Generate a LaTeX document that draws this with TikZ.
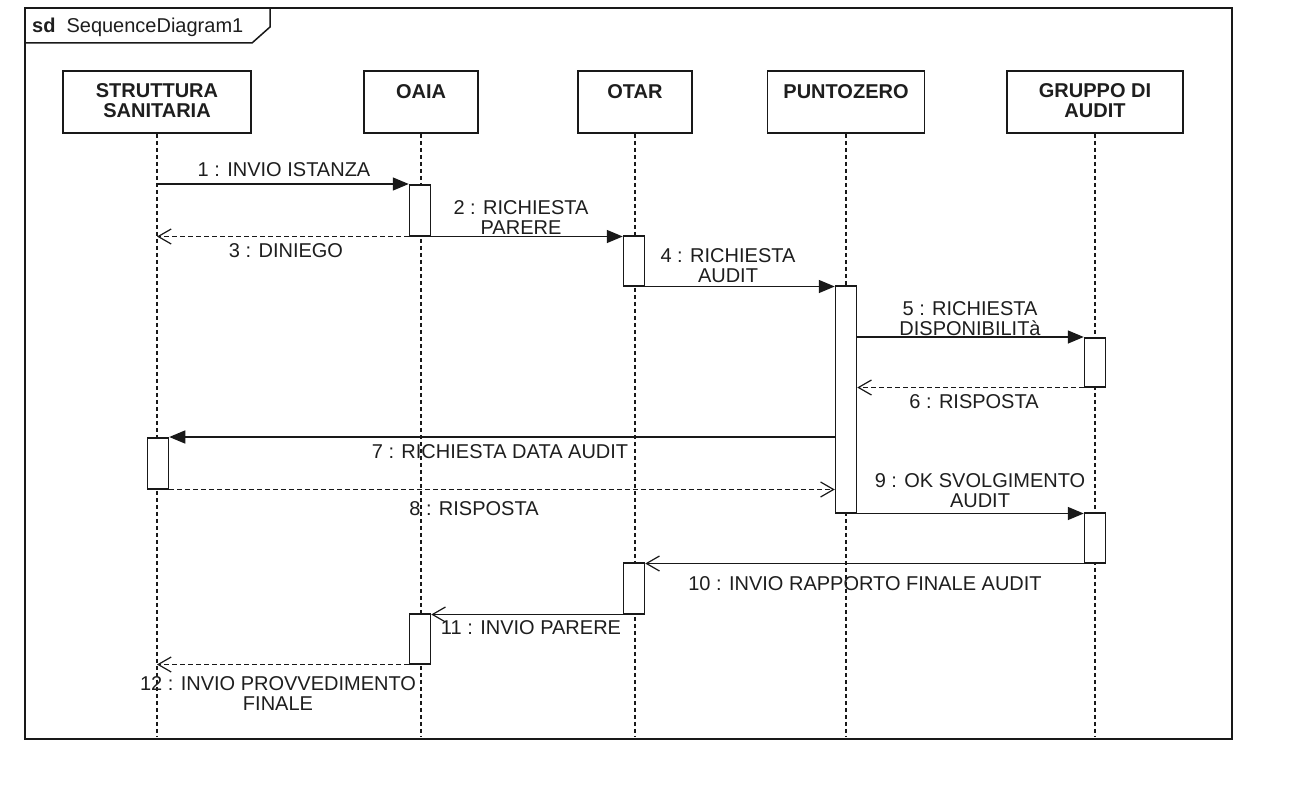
\documentclass[tikz,border=0pt]{standalone}
\usepackage{fontspec}
\setmainfont{Liberation Sans}
\usetikzlibrary{arrows.meta,calc}
\definecolor{txt}{RGB}{30,30,30}
\definecolor{ln}{RGB}{25,25,25}
\tikzset{
  lbox/.style={draw=ln, line width=1.5pt, fill=white, minimum height=62pt, inner sep=0pt},
  ltext/.style={font=\fontsize{20pt}{20pt}\selectfont\bfseries, align=center, inner sep=0pt, text=txt},
  act/.style={draw=ln, line width=1.5pt, fill=white, minimum width=21pt, inner sep=0pt, anchor=north},
  life/.style={draw=ln, dash pattern=on 4pt off 3pt, line width=1.2pt},
  msg/.style={draw=ln, line width=1.5pt, -{Triangle[length=16pt,width=13pt]}},
  reply/.style={draw=ln, line width=1.2pt, dash pattern=on 5pt off 3pt, -{Straight Barb[length=13pt,width=15pt,line width=1.2pt]}},
  async/.style={draw=ln, line width=1.5pt, -{Straight Barb[length=13pt,width=15pt,line width=1.2pt]}},
  mlabel/.style={font=\fontsize{20pt}{20pt}\selectfont, align=center, inner sep=0pt, text=txt},
}
\begin{document}
\begin{tikzpicture}[x=1pt,y=-1pt]
\useasboundingbox (0,0) rectangle (1306,792);
\fill[white] (0,0) rectangle (1306,792);

% frame
\draw[draw=ln, line width=1.5pt] (25,8) rectangle (1232,739);
\draw[draw=ln, line width=1.5pt] (25,43) -- (252,43) -- (270,27) -- (270,8);
\node[anchor=base west, inner sep=0pt, text=txt, font=\fontsize{20pt}{20pt}\selectfont] (title) at (32,33) {\textbf{sd}\hspace{11pt}SequenceDiagram1};
\coordinate (fbot) at (0,736);

% lifeline heads
\node[lbox, minimum width=188pt] (ss) at (157,102) {};
\node[lbox, minimum width=114pt] (oa) at (421,102) {};
\node[lbox, minimum width=114pt] (ot) at (635,102) {};
\node[lbox, minimum width=157pt] (pz) at (846,102) {};
\node[lbox, minimum width=176pt] (ga) at (1095,102) {};
\node[ltext, anchor=south] (sst) at (157,118) {STRUTTURA\\SANITARIA};
\node[ltext, anchor=base] (oat) at (421,98) {OAIA};
\node[ltext, anchor=base] (ott) at (635,98) {OTAR};
\node[ltext, anchor=base] (pzt) at (846,98) {PUNTOZERO};
\node[ltext, anchor=south] (gat) at (1095,118) {GRUPPO DI\\AUDIT};

% lifelines
\draw[life] (ss.south) -- (ss.south |- fbot);
\draw[life] (oa.south) -- (oa.south |- fbot);
\draw[life] (ot.south) -- (ot.south |- fbot);
\draw[life] (pz.south) -- (pz.south |- fbot);
\draw[life] (ga.south) -- (ga.south |- fbot);

% activations
\node[act, minimum height=51pt] (aO1) at (420,184) {};
\node[act, minimum height=50pt] (aT1) at (634,235) {};
\node[act, minimum height=227pt] (aP) at (846,285) {};
\node[act, minimum height=49pt] (aG1) at (1095,337) {};
\node[act, minimum height=51pt] (aS) at (158,437) {};
\node[act, minimum height=50pt] (aG2) at (1095,512) {};
\node[act, minimum height=51pt] (aT2) at (634,562) {};
\node[act, minimum height=50pt] (aO2) at (420,613) {};

% messages
\draw[msg] (ss.south |- aO1.north west) -- (aO1.north west);
\draw[msg] (aO1.south east) -- (aT1.north west |- aO1.south east);
\draw[reply] (aO1.south west) -- (ss.south |- aO1.south west);
\draw[msg] (aT1.south east) -- (aP.north west |- aT1.south east);
\draw[msg] (aP.east |- aG1.north) -- (aG1.north west);
\draw[reply] (aG1.south west) -- (aP.east |- aG1.south west);
\draw[msg] (aP.west |- aS.north) -- (aS.north east);
\draw[reply] (aS.south east) -- (aP.west |- aS.south);
\draw[msg] (aP.south east) -- (aG2.north west |- aP.south east);
\draw[async] (aG2.south west) -- (aT2.north east |- aG2.south west);
\draw[async] (aT2.south west) -- (aO2.north east |- aT2.south west);
\draw[reply] (aO2.south west) -- (ss.south |- aO2.south west);

% labels
\node[mlabel, anchor=base] (l1) at (284,176) {1 : INVIO ISTANZA};
\node[mlabel, anchor=south] (l2) at (521,235) {2 : RICHIESTA\\PARERE};
\node[mlabel, anchor=base] (l3) at (286,257) {3 : DINIEGO};
\node[mlabel, anchor=south] (l4) at (728,283) {4 : RICHIESTA\\AUDIT};
\node[mlabel, anchor=south] (l5) at (970,336) {5 : RICHIESTA\\DISPONIBILITà};
\node[mlabel, anchor=base] (l6) at (974,408) {6 : RISPOSTA};
\node[mlabel, anchor=base] (l7) at (500,458) {7 : RICHIESTA DATA AUDIT};
\node[mlabel, anchor=base] (l8) at (474,515) {8 : RISPOSTA};
\node[mlabel, anchor=south] (l9) at (980,508) {9 : OK SVOLGIMENTO\\AUDIT};
\node[mlabel, anchor=base] (l10) at (865,590) {10 : INVIO RAPPORTO FINALE AUDIT};
\node[mlabel, anchor=base] (l11) at (531,634) {11 : INVIO PARERE};
\node[mlabel, anchor=south] (l12) at (278,711) {12 : INVIO PROVVEDIMENTO\\FINALE};
\end{tikzpicture}
\end{document}
